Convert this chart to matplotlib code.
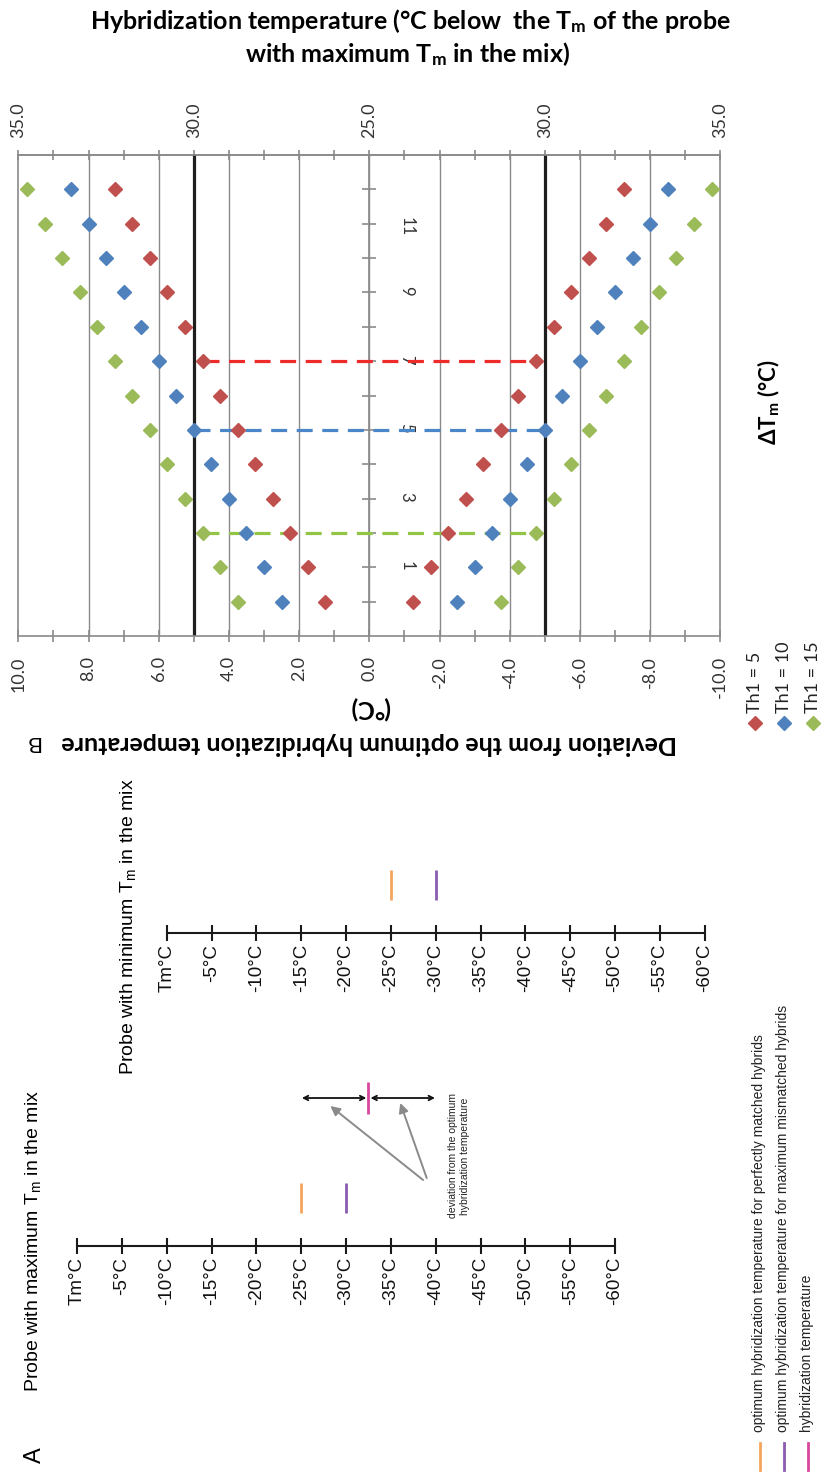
import numpy as np
import matplotlib
matplotlib.use('Agg')
import matplotlib.pyplot as plt
from matplotlib.ticker import MultipleLocator

plt.rcParams['mathtext.default'] = 'regular'

# ---------------- panel B data ----------------
delta_tm = [0, 1, 2, 3, 4, 5, 6, 7, 8, 9, 10, 11, 12]
th1_5 = [1.25, 1.75, 2.25, 2.75, 3.25, 3.75, 4.25, 4.75, 5.25, 5.75, 6.25, 6.75, 7.25]
th1_10 = [2.5, 3.0, 3.5, 4.0, 4.5, 5.0, 5.5, 6.0, 6.5, 7.0, 7.5, 8.0, 8.5]
th1_15 = [3.75, 4.25, 4.75, 5.25, 5.75, 6.25, 6.75, 7.25, 7.75, 8.25, 8.75, 9.25, 9.75]
series_names = ['Th1 = 5', 'Th1 = 10', 'Th1 = 15']
series_colors = ['#C0504D', '#4F81BD', '#9BBB59']
dash_colors = ['#EE2A2A', '#4A86C8', '#92C445']
limit_dtm = [7, 5, 2]      # last delta Tm inside the 5 degree limit
limit_dev = 5.0
dev_ticks = [10, 8, 6, 4, 2, 0, -2, -4, -6, -8, -10]
dev_labels = ['10.0', '8.0', '6.0', '4.0', '2.0', '0.0', '-2.0', '-4.0', '-6.0', '-8.0', '-10.0']
hyb_ticks = [10, 5, 0, -5, -10]
hyb_labels = ['35.0', '30.0', '25.0', '30.0', '35.0']
dtm_labels = ['', '1', '', '3', '', '5', '', '7', '', '9', '', '11', '']

# ---------------- panel A data ----------------
scale_temps = [0, -5, -10, -15, -20, -25, -30, -35, -40, -45, -50, -55, -60]
scale_labels = ['Tm°C', '-5°C', '-10°C', '-15°C', '-20°C', '-25°C', '-30°C',
                '-35°C', '-40°C', '-45°C', '-50°C', '-55°C', '-60°C']
min_probe_shift = -10      # Tm of the second probe relative to the first
opt_perfect = -25
opt_mismatch = -30
hyb_temp = -32.5
legend_A = ['optimum hybridization temperature for perfectly matched hybrids',
            'optimum hybridization temperature for maximum mismatched hybrids',
            'hybridization temperature']
colors_A = ['#F6A55E', '#8A5DB0', '#D8479E']

W, H = 826, 1472
fig = plt.figure(figsize=(W / 100, H / 100), dpi=100)

# pixel overlay for free text
pix = fig.add_axes([0, 0, 1, 1])
pix.set_xlim(0, W)
pix.set_ylim(H, 0)
pix.axis('off')

# panel A overlay, x in degrees of the first scale
x0_px, x60_px = 77, 615
k = (x60_px - x0_px) / 60.0
axA = fig.add_axes([0, 0, 1, 1])
axA.set_xlim(x0_px / k, -(W - x0_px) / k)
axA.set_ylim(H, 0)
axA.axis('off')

# ---------------- panel B ----------------
L, R, T, B = 18.3, 720.3, 155, 636
axB = fig.add_axes([L / W, 1 - B / H, (R - L) / W, (B - T) / H])
axB.set_xlim(10, -10)
axB.set_ylim(-1, 13)
gray = '#8a8a8a'
fontB = 'Lato'

for v in dev_ticks[1:-1]:
    axB.axvline(v, color=gray, lw=1, zorder=1)
axB.axvline(-10, color=gray, lw=1.2, zorder=1, clip_on=False)
axB.axvline(limit_dev, color='#1e1e1e', lw=2.3, zorder=2)
axB.axvline(-limit_dev, color='#1e1e1e', lw=2.3, zorder=2)

series = [th1_5, th1_10, th1_15]
for vals, c, dc, d in zip(series, series_colors, dash_colors, limit_dtm):
    v = vals[delta_tm.index(d)]
    axB.plot([v, -v], [d, d], ls=(0, (5, 3)), lw=2.3, color=dc, zorder=3)
for vals, c in zip(series, series_colors):
    vals = np.array(vals)
    axB.plot(vals, delta_tm, 'D', color=c, ms=7.3, mec=c, zorder=4, clip_on=False)
    axB.plot(-vals, delta_tm, 'D', color=c, ms=7.3, mec=c, zorder=4, clip_on=False)

for s in ['left', 'top', 'bottom']:
    axB.spines[s].set_color(gray)
    axB.spines[s].set_linewidth(1.2)
axB.spines['right'].set_position(('data', 0))
axB.spines['right'].set_color(gray)
axB.spines['right'].set_linewidth(1.2)
axB.yaxis.set_ticks_position('right')
axB.set_yticks(delta_tm, labels=dtm_labels)
axB.tick_params(axis='y', direction='inout', length=10, width=1.2, color=gray,
                labelrotation=-90, pad=16, labelsize=12, labelcolor='#333333')
for lab in axB.get_yticklabels():
    lab.set_fontfamily(fontB)

axB.set_xticks(dev_ticks, labels=dev_labels)
axB.xaxis.set_minor_locator(MultipleLocator(1))
axB.tick_params(axis='x', which='both', direction='inout', length=9, width=1.2,
                color=gray, labelrotation=90, pad=10, labelsize=13, labelcolor='#333333')
for lab in axB.get_xticklabels():
    lab.set_fontfamily(fontB)

sec = axB.secondary_xaxis('top')
sec.set_xticks(hyb_ticks, labels=hyb_labels)
sec.xaxis.set_minor_locator(MultipleLocator(1))
sec.spines['top'].set_color(gray)
sec.spines['top'].set_linewidth(1.2)
sec.tick_params(axis='x', which='both', direction='inout', length=7, width=1.2,
                color=gray, labelrotation=90, pad=9, labelsize=13, labelcolor='#333333')
for lab in sec.get_xticklabels():
    lab.set_fontfamily(fontB)

# titles and labels of panel B
pix.text(410, 21, 'Hybridization temperature (°C below  the T$_m$ of the probe',
         ha='center', va='center', fontsize=18, fontweight='bold', family=fontB)
pix.text(408, 54, 'with maximum T$_m$ in the mix)',
         ha='center', va='center', fontsize=18, fontweight='bold', family=fontB)
pix.text(369, 744, 'Deviation from the optimum hybridization temperature',
         ha='center', va='center', rotation=180, fontsize=18, fontweight='bold', family=fontB)
pix.text(370, 708, '(°C)', ha='center', va='center', rotation=180,
         fontsize=18, fontweight='bold', family=fontB)
pix.text(33, 742, 'B', ha='center', va='center', rotation=180, fontsize=16,
         family='Liberation Sans')
pix.text(769, 402, 'ΔT$_m$ (°C)', ha='center', va='center', rotation=90,
         fontsize=16, fontweight='bold', family=fontB)
for i, (name, c) in enumerate(zip(series_names, series_colors)):
    x = 755 + 29 * i
    pix.plot(x, 723, 'D', color=c, ms=7.3)
    pix.text(x, 713, name, rotation=90, ha='center', va='bottom', fontsize=13,
             family=fontB, color='#222222')

# ---------------- panel A ----------------
fontA = 'Liberation Sans'
temps = np.array(scale_temps, dtype=float)
for shift, y_ax in [(0, 1246), (min_probe_shift, 933)]:
    t = temps + shift
    axA.plot([t[0], t[-1]], [y_ax, y_ax], color='#1a1a1a', lw=1.5)
    axA.vlines(t, y_ax - 8, y_ax + 8, color='#1a1a1a', lw=1.5)
    for tt, lab in zip(t, scale_labels):
        axA.text(tt, y_ax + 11, lab, rotation=90, ha='center', va='top',
                 fontsize=13.5, family=fontA, color='#111111')
    axA.vlines(opt_perfect + shift, y_ax - 63, y_ax - 33, color=colors_A[0], lw=2)
    axA.vlines(opt_mismatch + shift, y_ax - 63, y_ax - 33, color=colors_A[1], lw=2)

axA.vlines(hyb_temp, 1082, 1114, color=colors_A[2], lw=2)
arrow_y = 1098
axA.annotate('', xy=(opt_perfect, arrow_y), xytext=(hyb_temp, arrow_y),
             arrowprops=dict(arrowstyle='<->', color='#111111', lw=1.3,
                             shrinkA=1.5, shrinkB=0.5, mutation_scale=8))
axA.annotate('', xy=(opt_mismatch + min_probe_shift, arrow_y), xytext=(hyb_temp, arrow_y),
             arrowprops=dict(arrowstyle='<->', color='#111111', lw=1.3,
                             shrinkA=1.5, shrinkB=0.5, mutation_scale=8))
axA.annotate('', xy=((opt_perfect + hyb_temp) / 2 + 0.5, 1106), xytext=(-38.6, 1180),
             arrowprops=dict(arrowstyle='-|>', color='#8a8a8a', lw=1.4,
                             shrinkA=0, shrinkB=0, mutation_scale=14))
axA.annotate('', xy=((opt_mismatch + min_probe_shift + hyb_temp) / 2 + 0.2, 1103),
             xytext=(-39.0, 1178),
             arrowprops=dict(arrowstyle='-|>', color='#8a8a8a', lw=1.4,
                             shrinkA=0, shrinkB=0, mutation_scale=14))
axA.text(-42.6, 1156, 'deviation from the optimum\nhybridization temperature',
         rotation=90, ha='center', va='center', multialignment='center',
         fontsize=7.5, family=fontA, color='#222222')

pix.text(35, 1455, 'A', rotation=90, ha='center', va='center', fontsize=17, family=fontA)
pix.text(33, 1392, 'Probe with maximum T$_m$ in the mix', rotation=90,
         ha='center', va='bottom', fontsize=14, family=fontA)
pix.text(128, 1075, 'Probe with minimum T$_m$ in the mix', rotation=90,
         ha='center', va='bottom', fontsize=14, family=fontA)
for i, (txt, c) in enumerate(zip(legend_A, colors_A)):
    x = 760 + 24 * i
    pix.plot([x, x], [1443, 1470], color=c, lw=2)
    pix.text(x - 1, 1432, txt, rotation=90, ha='center', va='bottom', fontsize=10,
             family=fontA, color='#222222')

fig.savefig('out.png', dpi=100)
